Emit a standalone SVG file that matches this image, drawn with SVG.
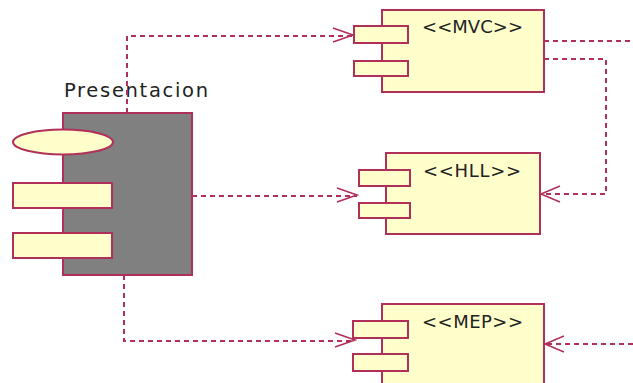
<svg xmlns="http://www.w3.org/2000/svg" width="633" height="383" viewBox="0 0 633 383">
  <style>
    .body { fill: #ffffcc; stroke: #b0305a; stroke-width: 2; }
    .pres { fill: #808080; stroke: #b0305a; stroke-width: 2; }
    .port { fill: #ffffcc; stroke: #b0305a; stroke-width: 2; }
    .dep { fill: none; stroke: #b0305a; stroke-width: 2; stroke-dasharray: 5 4; }
    .head { fill: none; stroke: #b0305a; stroke-width: 1.6; }
    .lbl { font-family: "DejaVu Sans", "Liberation Sans", sans-serif; font-size: 18px; fill: #222222; }
    .title { font-size: 19.5px; }
  </style>
  <rect width="633" height="383" fill="#ffffff"/>

  <!-- Presentacion component -->
  <g id="presentacion">
    <text class="lbl title" x="64" y="97" textLength="144" lengthAdjust="spacing">Presentacion</text>
    <rect class="pres" x="63" y="113" width="129" height="162"/>
    <ellipse class="port" cx="63" cy="142" rx="50" ry="12.5"/>
    <rect class="port" x="13" y="183" width="99" height="25"/>
    <rect class="port" x="13" y="233" width="99" height="25"/>
  </g>

  <!-- MVC component -->
  <g id="mvc">
    <rect class="body" x="382" y="10" width="162" height="82"/>
    <rect class="port" x="354" y="26" width="54" height="17"/>
    <rect class="port" x="354" y="61" width="54" height="15"/>
    <text class="lbl" x="422" y="33" textLength="101" lengthAdjust="spacing">&lt;&lt;MVC&gt;&gt;</text>
  </g>

  <!-- HLL component -->
  <g id="hll">
    <rect class="body" x="386" y="153" width="154" height="81"/>
    <rect class="port" x="359" y="170" width="51" height="16"/>
    <rect class="port" x="359" y="203" width="51" height="15"/>
    <text class="lbl" x="423" y="177" textLength="98" lengthAdjust="spacing">&lt;&lt;HLL&gt;&gt;</text>
  </g>

  <!-- MEP component -->
  <g id="mep">
    <rect class="body" x="382" y="304" width="162" height="90"/>
    <rect class="port" x="353" y="321" width="55" height="17"/>
    <rect class="port" x="353" y="354" width="55" height="17"/>
    <text class="lbl" x="422" y="328" textLength="101" lengthAdjust="spacing">&lt;&lt;MEP&gt;&gt;</text>
  </g>

  <!-- Dependency connectors -->
  <g id="connectors">
    <path class="dep" d="M127 113 V36 H352"/>
    <path class="head" d="M333 28 L353 35 L333 42"/>

    <path class="dep" d="M192 196 H357"/>
    <path class="head" d="M337 188 L357 195 L337 202"/>

    <path class="dep" d="M124 275 V341 H355"/>
    <path class="head" d="M335 333 L355 340 L335 347"/>

    <path class="dep" d="M544 41 H633"/>

    <path class="dep" d="M544 59 H606 V194 H542"/>
    <path class="head" d="M560 186 L541 194 L560 202"/>

    <path class="dep" d="M633 344 H546"/>
    <path class="head" d="M564 336 L545 344 L564 352"/>
  </g>
</svg>
